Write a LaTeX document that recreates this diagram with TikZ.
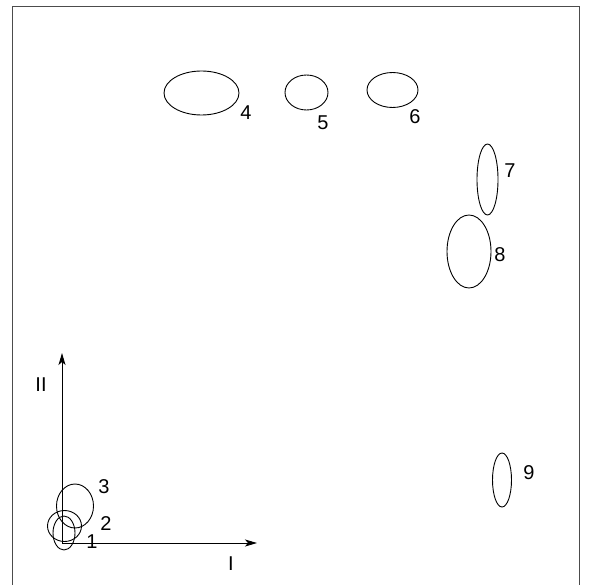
\documentclass[tikz,border=0pt]{standalone}
\usepackage{fontspec}
\setmainfont{Liberation Sans}
\usetikzlibrary{shapes.geometric,arrows.meta}
\newcommand\lblfont{\fontsize{20}{22}\selectfont}
\begin{document}
\begin{tikzpicture}[x=1pt,y=-1pt,
  spot/.style={draw,ellipse,line width=0.9pt,inner sep=0pt},
  lbl/.style={font=\lblfont,inner sep=0pt},
  axis/.style={line width=0.9pt,-{Stealth[length=12pt,width=7pt,inset=3pt]}}]
\useasboundingbox (0,0) rectangle (591,585);
\begin{scope}
\clip (0,0) rectangle (591,585);
\draw[line width=1pt,black!70] (12,600) -- (12,7) -- (579,7) -- (579,600);
\end{scope}
\coordinate (O) at (62,543);
\coordinate (Yend) at (62,353);
\coordinate (Xend) at (257,543);
\draw[axis] (O) -- (Yend);
\draw[axis] (O) -- (Xend);
\node[lbl] (lII) at (41,385) {II};
\node[lbl] (lI) at (231,564) {I};
\node[spot,minimum width=34pt,minimum height=31pt] (e2) at (64.5,526) {};
\node[spot,minimum width=22pt,minimum height=34pt] (e1) at (64,533) {};
\node[spot,minimum width=37pt,minimum height=44pt] (e3) at (75,506) {};
\node[spot,minimum width=75pt,minimum height=44pt] (e4) at (201.5,93) {};
\node[spot,minimum width=43pt,minimum height=35pt] (e5) at (306.5,92.5) {};
\node[spot,minimum width=51pt,minimum height=35pt] (e6) at (392.5,90) {};
\node[spot,minimum width=21pt,minimum height=71pt] (e7) at (487.5,179.5) {};
\node[spot,minimum width=44pt,minimum height=73pt] (e8) at (469,251.5) {};
\node[spot,minimum width=19pt,minimum height=54pt] (e9) at (502,480) {};
\node[lbl] (l1) at (92,542) {1};
\node[lbl] (l2) at (106,524) {2};
\node[lbl] (l3) at (104,487) {3};
\node[lbl] (l4) at (246,113) {4};
\node[lbl] (l5) at (323,123) {5};
\node[lbl] (l6) at (415,117) {6};
\node[lbl] (l7) at (510,171) {7};
\node[lbl] (l8) at (500,255) {8};
\node[lbl] (l9) at (529,473) {9};
\end{tikzpicture}
\end{document}
